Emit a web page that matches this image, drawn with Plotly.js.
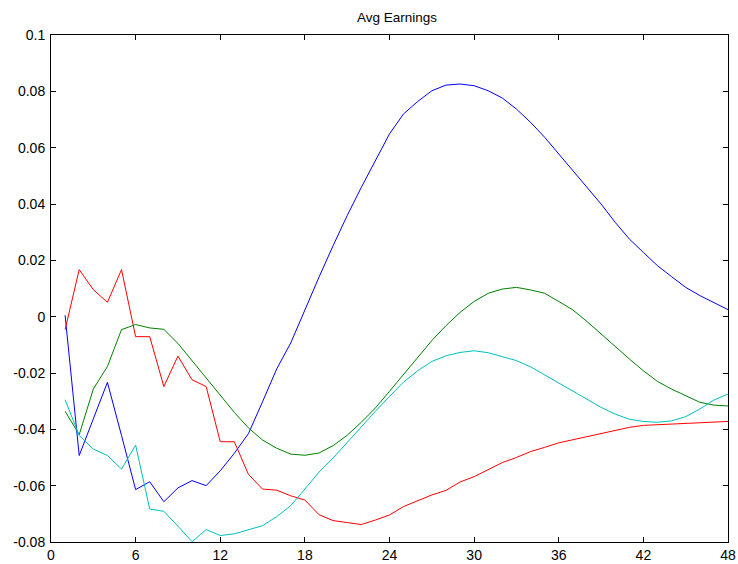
<!DOCTYPE html>
<html>
<head>
<meta charset="utf-8">
<script src="https://cdn.plot.ly/plotly-3.0.1.min.js"></script>
<style>html,body{margin:0;padding:0;background:#fff;}#chart{width:738px;height:564px;}</style>
</head>
<body>
<div id="chart"></div>
<script>
var horizon = [];
for (var i = 1; i <= 48; i++) horizon.push(i);

var blueSeries = [0.0005, -0.0493, -0.0363, -0.0233, -0.0422, -0.0614, -0.0586, -0.0657, -0.0608, -0.0582,
  -0.0600, -0.0547, -0.0485, -0.0415, -0.0302, -0.0186, -0.0093, 0.0025, 0.0140, 0.0252,
  0.0359, 0.0459, 0.0554, 0.0649, 0.0720, 0.0764, 0.0802, 0.0822, 0.0826, 0.0820,
  0.0802, 0.0776, 0.0737, 0.0690, 0.0637, 0.0578, 0.0518, 0.0459, 0.0400, 0.0335,
  0.0276, 0.0228, 0.0181, 0.0142, 0.0104, 0.0075, 0.0049, 0.0025];

var greenSeries = [-0.0336, -0.0419, -0.0257, -0.0177, -0.0046, -0.0028, -0.0040, -0.0045, -0.0095, -0.0156,
  -0.0215, -0.0276, -0.0340, -0.0395, -0.0438, -0.0467, -0.0488, -0.0492, -0.0484, -0.0458,
  -0.0421, -0.0375, -0.0324, -0.0265, -0.0204, -0.0143, -0.0085, -0.0032, 0.0015, 0.0054,
  0.0083, 0.0098, 0.0104, 0.0095, 0.0083, 0.0054, 0.0024, -0.0017, -0.0062, -0.0107,
  -0.0150, -0.0192, -0.0230, -0.0257, -0.0281, -0.0304, -0.0314, -0.0317];

var redSeries = [-0.0046, 0.0167, 0.0096, 0.0051, 0.0167, -0.0071, -0.0071, -0.0248, -0.0140, -0.0224,
  -0.0248, -0.0444, -0.0444, -0.0560, -0.0612, -0.0616, -0.0636, -0.0651, -0.0703, -0.0724,
  -0.0731, -0.0738, -0.0722, -0.0704, -0.0674, -0.0654, -0.0633, -0.0617, -0.0587, -0.0568,
  -0.0543, -0.0518, -0.0500, -0.0479, -0.0464, -0.0448, -0.0437, -0.0426, -0.0413, -0.0403,
  -0.0393, -0.0386, -0.0384, -0.0381, -0.0379, -0.0377, -0.0374, -0.0372];

var cyanSeries = [-0.0295, -0.0422, -0.0470, -0.0493, -0.0541, -0.0456, -0.0683, -0.0691, -0.0744, -0.0799,
  -0.0756, -0.0777, -0.0771, -0.0756, -0.0742, -0.0710, -0.0671, -0.0612, -0.0552, -0.0502,
  -0.0446, -0.0391, -0.0336, -0.0283, -0.0232, -0.0192, -0.0159, -0.0139, -0.0127, -0.0121,
  -0.0128, -0.0142, -0.0156, -0.0178, -0.0206, -0.0237, -0.0265, -0.0293, -0.0322, -0.0346,
  -0.0364, -0.0372, -0.0375, -0.0370, -0.0355, -0.0328, -0.0296, -0.0275];

var xTickVals = [0, 6, 12, 18, 24, 30, 36, 42, 48];
var xTickText = ['0', '6', '12', '18', '24', '30', '36', '42', '48'];
var yTickVals = [-0.08, -0.06, -0.04, -0.02, 0, 0.02, 0.04, 0.06, 0.08, 0.1];
var yTickText = ['-0.08', '-0.06', '-0.04', '-0.02', '0', '0.02', '0.04', '0.06', '0.08', '0.1'];

function line(y, color) {
  return {x: horizon, y: y, type: 'scatter', mode: 'lines',
    line: {color: color, width: 1}, hoverinfo: 'x+y', showlegend: false};
}

var data = [
  line(blueSeries, '#0000FF'),
  line(greenSeries, '#008000'),
  line(redSeries, '#FF0000'),
  line(cyanSeries, '#00BFBF')
];

var axisCommon = {
  showgrid: false, zeroline: false, showline: true, linecolor: '#000', linewidth: 1,
  mirror: 'ticks', ticks: 'inside', ticklen: 5, tickcolor: '#000', tickwidth: 1,
  tickfont: {family: 'Liberation Sans, Arial, sans-serif', size: 14, color: '#000'}
};

var layout = {
  width: 738, height: 564,
  margin: {l: 51, r: 10, t: 35, b: 22},
  paper_bgcolor: '#fff', plot_bgcolor: '#fff',
  title: {text: 'Avg Earnings', x: 0.538, xanchor: 'center', y: 0.97, yanchor: 'middle',
    font: {family: 'Liberation Sans, Arial, sans-serif', size: 13.5, color: '#000'}},
  xaxis: Object.assign({}, axisCommon, {range: [0, 48], tickvals: xTickVals, ticktext: xTickText}),
  yaxis: Object.assign({}, axisCommon, {range: [-0.08, 0.1], tickvals: yTickVals, ticktext: yTickText, ticklabelstandoff: 2}),
  showlegend: false
};

Plotly.newPlot('chart', data, layout, {displayModeBar: false, staticPlot: true});
</script>
</body>
</html>
